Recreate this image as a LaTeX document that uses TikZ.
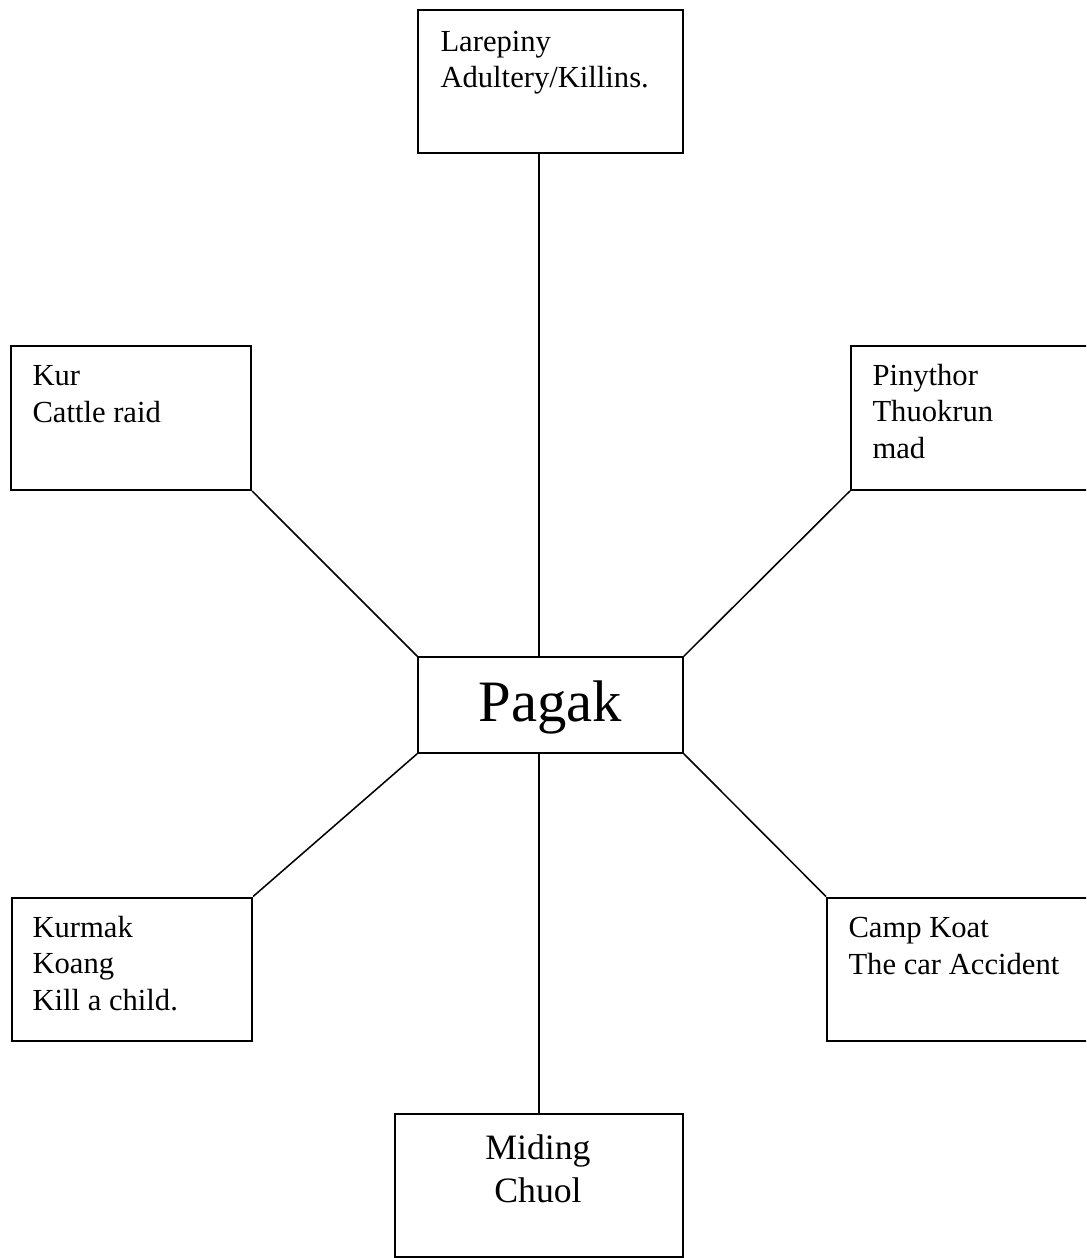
\documentclass[tikz,border=0pt]{standalone}
\usepackage{fontspec}
\setmainfont{Liberation Serif}
\usetikzlibrary{positioning}

\begin{document}
\begin{tikzpicture}[
    x=0.392pt, y=-0.392pt,
    font=\fontsize{12}{14.3}\selectfont
  ]

  % Styles
  \tikzset{
    box/.style={draw, line width=0.8pt, minimum width=94.1pt, minimum height=56.4pt, inner sep=0pt},
    hub/.style={draw, line width=0.6pt, minimum width=103.9pt, minimum height=37.6pt, inner sep=0pt, text height=18.3pt, text depth=5pt, font=\fontsize{23}{27}\selectfont},
    note/.style={inner sep=0pt, align=left, anchor=base west},
    spoke/.style={line width=0.6pt}
  }

  \useasboundingbox (0,0) rectangle (1086,1258);
  \clip (0,0) rectangle (1086,1258);

  % Centre
  \node (pagak) [hub] at (550.5,705) {Pagak};

  % Boxes round it
  \node (larepiny) [box, minimum width=103.9pt] at (550.5,81.5) {};
  \node (kur)      [box] at (131,418) {};
  \node (pinythor) [box] at (971,418) {};
  \node (kurmak)   [box] at (132,969.5) {};
  \node (campkoat) [box, minimum width=105.8pt] at (962,969.5) {};
  \node (miding)   [box, minimum width=112.9pt] at (539,1185.5) {};

  % Texts in the boxes (placed by the baseline of their last line)
  \node (larepinytext) [note] at (440,88) {Larepiny\\Adultery/Killins.};
  \node (kurtext)      [note] at (32,422) {Kur\\Cattle raid};
  \node (pinythortext) [note] at (872,458) {Pinythor\\Thuokrun\\mad};
  \node (kurmaktext)   [note] at (32,1010) {Kurmak\\Koang\\Kill a child.};
  \node (campkoattext) [note] at (848,974) {Camp Koat\\The car Accident};
  \node (midingtext)   [note, align=center, anchor=base, font=\fontsize{14}{16.5}\selectfont] at (538,1202) {Miding\\Chuol};

  % Spokes
  \draw[spoke] (miding.north |- larepiny.south) -- (miding.north |- pagak.north);
  \draw[spoke] (kur.south east) -- (pagak.north west);
  \draw[spoke] (pinythor.south west) -- (pagak.north east);
  \draw[spoke] (kurmak.north east) -- (pagak.south west);
  \draw[spoke] (campkoat.north west) -- (pagak.south east);
  \draw[spoke] (pagak.south -| miding.north) -- (miding.north);

\end{tikzpicture}
\end{document}
